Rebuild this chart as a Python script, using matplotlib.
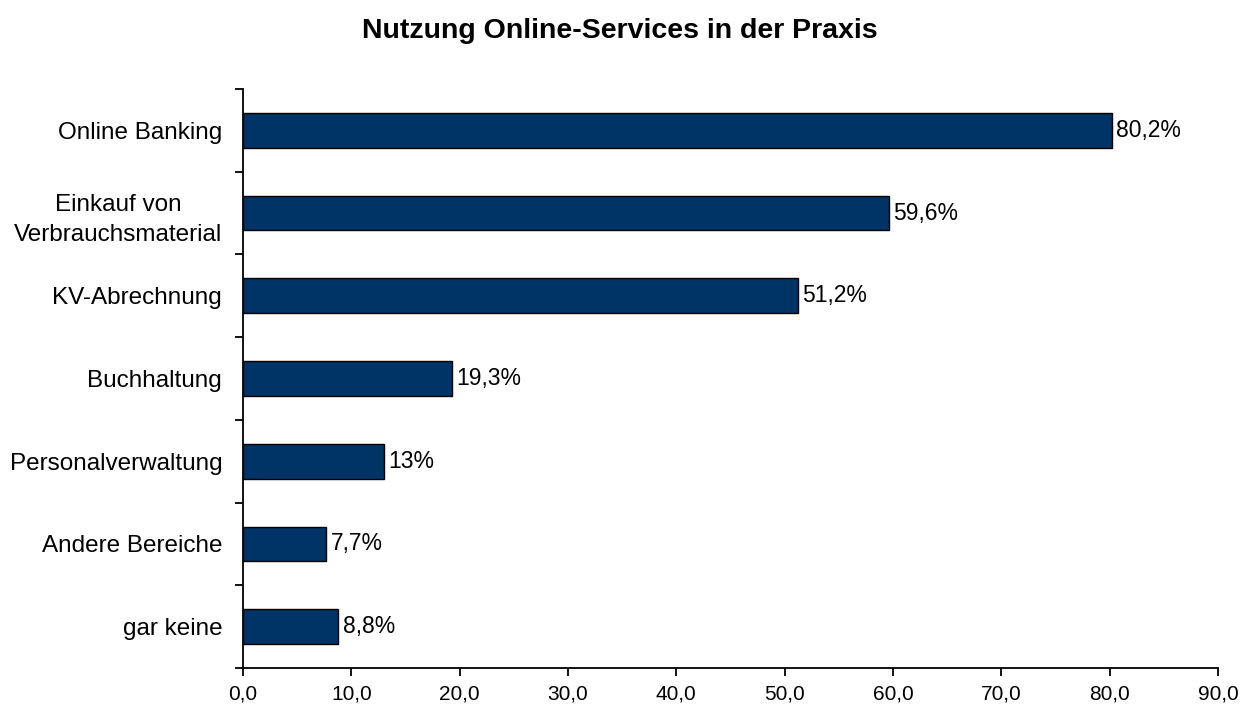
import matplotlib
matplotlib.use("Agg")
import matplotlib.pyplot as plt
import numpy as np

plt.rcParams['font.family'] = ['Liberation Sans', 'DejaVu Sans']

categories = ["Online Banking", "Einkauf von\nVerbrauchsmaterial", "KV-Abrechnung",
              "Buchhaltung", "Personalverwaltung", "Andere Bereiche", "gar keine"]
values = [80.2, 59.6, 51.2, 19.3, 13.0, 7.7, 8.8]
value_labels = ["80,2%", "59,6%", "51,2%", "19,3%", "13%", "7,7%", "8,8%"]
xticks = [0, 10, 20, 30, 40, 50, 60, 70, 80, 90]
xtick_labels = ["0,0", "10,0", "20,0", "30,0", "40,0", "50,0", "60,0", "70,0", "80,0", "90,0"]

fig = plt.figure(figsize=(12.4, 7.09), dpi=100)
ax = fig.add_axes([243/1240, 1-668/709, (1218-243)/1240, (668-89)/709])

n = len(categories)
y = np.arange(n)
ax.barh(y, values, height=0.42, color="#003366", edgecolor="black", linewidth=1.0)
ax.set_ylim(n - 0.5, -0.5)
ax.set_xlim(0, 90)

for yi, v, lab in zip(y, values, value_labels):
    ax.text(v + 0.4, yi, lab, va="center", ha="left", fontsize=16.5)

ax.set_yticks(y)
ax.set_yticklabels(categories, fontsize=17.5, multialignment="center", linespacing=1.5)
ax.set_yticks(np.arange(-0.5, n, 1.0), minor=True)
ax.tick_params(axis="y", which="major", length=0, pad=15)
ax.tick_params(axis="y", which="minor", length=6, width=1.3, direction="out")
ax.set_xticks(xticks)
ax.set_xticklabels(xtick_labels, fontsize=15)
ax.tick_params(axis="x", length=6, width=1.3, direction="out", pad=6)

for s in ["top", "right"]:
    ax.spines[s].set_visible(False)
for s in ["left", "bottom"]:
    ax.spines[s].set_linewidth(1.3)

fig.text(0.5, 1 - 31/709, "Nutzung Online-Services in der Praxis", ha="center", va="center",
         fontsize=20.5, fontweight="bold")

fig.savefig("out.png", dpi=100)
